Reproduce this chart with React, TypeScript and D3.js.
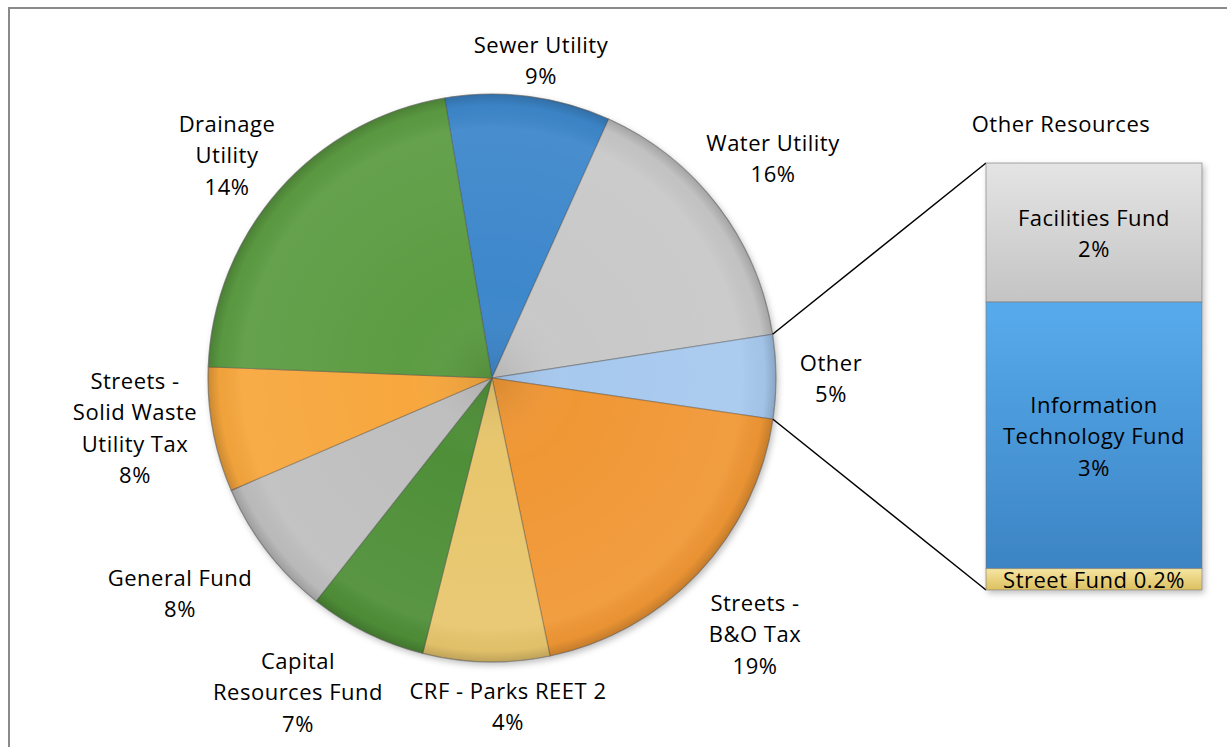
import React from "react";
import * as d3 from "d3";

const pieLabels = [
  ["Sewer Utility", "9%"],
  ["Water Utility", "16%"],
  ["Other", "5%"],
  ["Streets -", "B&O Tax", "19%"],
  ["CRF - Parks REET 2", "4%"],
  ["Capital", "Resources Fund", "7%"],
  ["General Fund", "8%"],
  ["Streets -", "Solid Waste", "Utility Tax", "8%"],
  ["Drainage", "Utility", "14%"],
];
// slice shares (percent)
const pieValues = [9.4, 15.8, 4.78, 19.4, 7.2, 6.7, 7.9, 7.1, 21.7];
const pieColors = ["#3e87cb", "#c8c8c8", "#a7c9ee", "#f09734", "#e8c66d", "#4f8f37", "#bfbfbf", "#f7a73c", "#5c9c42"];
const labelPos = [
  [541, 47], [773, 145], [831, 365], [755, 605], [508, 693], [298, 663], [180, 580], [135, 383], [227, 126],
];

const barLabels = [["Facilities Fund", "2%"], ["Information", "Technology Fund", "3%"], ["Street Fund 0.2%"]];
const barValues = [1.56, 2.99, 0.24];
const barColors = [["#e4e4e4", "#c4c4c4"], ["#57abec", "#3c84c4"], ["#f6e6a2", "#dcbf5f"]];
const barTitle = "Other Resources";

export default function App() {
  const cx = 492, cy = 378, r = 284;
  const start = (-9.6 * Math.PI) / 180;
  const pie = d3.pie<number>().sort(null).startAngle(start).endAngle(start + 2 * Math.PI);
  const arcs = pie(pieValues);
  const arc = d3.arc<d3.PieArcDatum<number>>().innerRadius(0).outerRadius(r);

  const other = arcs[2];
  const p1 = [cx + r * Math.sin(other.startAngle), cy - r * Math.cos(other.startAngle)];
  const p2 = [cx + r * Math.sin(other.endAngle), cy - r * Math.cos(other.endAngle)];

  const bx = 986, bw = 216, bTop = 163, bBot = 590;
  const total = d3.sum(barValues);
  const y = d3.scaleLinear().domain([0, total]).range([bTop, bBot]);
  let acc = 0;
  const segs = barValues.map((v, i) => {
    const s = { y0: y(acc), y1: y(acc + v), i };
    acc += v;
    return s;
  });

  const font = "'Open Sans', sans-serif";
  const fs = 22;
  const lh = 31.5;

  return (
    <svg width={1227} height={747} style={{ position: "absolute", left: 0, top: 0 }} fontFamily={font}>
      <defs>
        <radialGradient id="pieShade" cx={0} cy={0} r={r} gradientUnits="userSpaceOnUse">
          <stop offset="0%" stopColor="#000" stopOpacity={0.1} />
          <stop offset="30%" stopColor="#fff" stopOpacity={0.0} />
          <stop offset="88%" stopColor="#fff" stopOpacity={0.06} />
          <stop offset="96%" stopColor="#000" stopOpacity={0.03} />
          <stop offset="100%" stopColor="#000" stopOpacity={0.18} />
        </radialGradient>
        {barColors.map((c, i) => (
          <linearGradient key={i} id={"bar" + i} x1="0" x2="0" y1="0" y2="1">
            <stop offset="0%" stopColor={c[0]} />
            <stop offset="100%" stopColor={c[1]} />
          </linearGradient>
        ))}
        <filter id="shadow" x="-10%" y="-10%" width="130%" height="130%">
          <feDropShadow dx="2" dy="3" stdDeviation="3" floodColor="#000" floodOpacity={0.25} />
        </filter>
      </defs>
      <rect x={0} y={0} width={1227} height={747} fill="#fff" />
      <rect x={9} y={8} width={1240} height={760} fill="none" stroke="#8a8a8a" strokeWidth={2} />

      <g transform={`translate(${cx},${cy})`}>
        <g filter="url(#shadow)">
          {arcs.map((a, i) => (
            <path key={i} d={arc(a) || ""} fill={pieColors[i]} stroke="#444" strokeOpacity={0.35} strokeWidth={1.2} />
          ))}
        </g>
        {arcs.map((a, i) => (
          <path key={"s" + i} d={arc(a) || ""} fill="url(#pieShade)" stroke="none" />
        ))}
        <circle r={r} fill="none" stroke="#777" strokeWidth={1} strokeOpacity={0.5} />
      </g>

      <line x1={p1[0]} y1={p1[1]} x2={bx} y2={bTop} stroke="#000" strokeWidth={1.5} />
      <line x1={p2[0]} y1={p2[1]} x2={bx} y2={bBot} stroke="#000" strokeWidth={1.5} />

      <g filter="url(#shadow)">
        {segs.map((s) => (
          <rect key={s.i} x={bx} y={s.y0} width={bw} height={s.y1 - s.y0} fill={`url(#bar${s.i})`} stroke="#777" strokeOpacity={0.6} strokeWidth={1} />
        ))}
      </g>

      <g fontSize={fs} fill="#000" textAnchor="middle" letterSpacing={0.5}>
        {pieLabels.map((lines, i) =>
          lines.map((t, j) => (
            <text key={i + "-" + j} x={labelPos[i][0]} y={labelPos[i][1] + j * lh} dominantBaseline="middle">
              {t}
            </text>
          ))
        )}
        <text x={1061} y={126} dominantBaseline="middle">{barTitle}</text>
        {segs.map((s) => {
          const lines = barLabels[s.i];
          const mid = (s.y0 + s.y1) / 2;
          const off = s.i === 0 ? 3 : s.i === 1 ? 3 : 3;
          return lines.map((t, j) => (
            <text key={s.i + "-" + j} x={bx + bw / 2} y={mid + off + (j - (lines.length - 1) / 2) * lh} dominantBaseline="middle">
              {t}
            </text>
          ));
        })}
      </g>
    </svg>
  );
}
